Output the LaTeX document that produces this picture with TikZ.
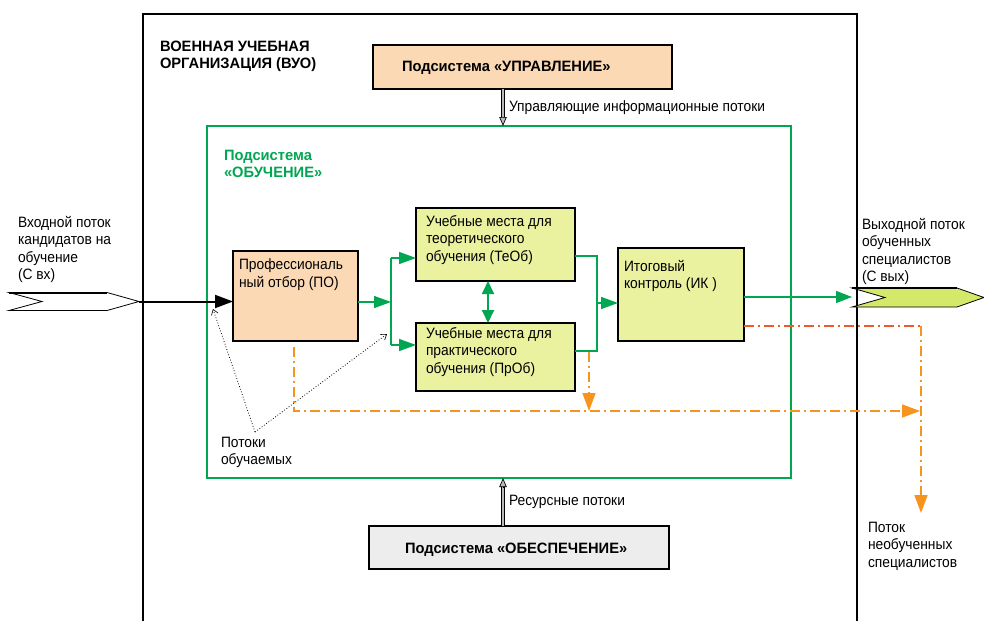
\documentclass[tikz,border=0pt]{standalone}
\usepackage{fontspec}
\setmainfont{Liberation Sans}[FakeStretch=0.92,BoldFeatures={FakeStretch=0.98}]
\usetikzlibrary{arrows.meta,calc}
\definecolor{peach}{RGB}{252,217,181}
\definecolor{lgreen}{RGB}{234,242,160}
\definecolor{outgreen}{RGB}{212,232,106}
\definecolor{dgreen}{RGB}{0,166,81}
\definecolor{orng}{RGB}{247,148,29}
\definecolor{redor}{RGB}{240,90,40}
\definecolor{lgray}{RGB}{237,237,237}
\newcommand{\dfont}{\fontsize{15}{17.5}\selectfont}
\newcommand{\bfont}{\fontsize{15}{17.5}\selectfont\bfseries}
\begin{document}
\begin{tikzpicture}[x=1pt,y=-1pt,
  every node/.style={inner sep=0pt,outer sep=0pt},
  txt/.style={anchor=north west,align=left,font=\dfont},
  btxt/.style={anchor=north west,align=left,font=\bfont},
  blk/.style={draw=black,line width=1.8pt,anchor=north west},
  garrow/.style={draw=dgreen,line width=1.6pt,-{Triangle[length=17pt,width=12pt]}},
  dd/.style={line width=1.6pt,dash pattern=on 10pt off 4pt on 2pt off 4pt},
  oarrow/.style={-{Triangle[length=18pt,width=13pt]}},
  dots/.style={line width=0.8pt,dotted,-{Straight Barb[length=5pt,width=7pt,line width=0.6pt]}},
  holout/.style={line width=4.2pt,line cap=butt},
  holin/.style={line width=2.4pt,draw=gray!55,line cap=butt},
  holtip/.style={line width=0.7pt,-{Triangle[length=9pt,width=7.5pt,fill=gray!55]}},
]
\useasboundingbox (0,0) rectangle (984,621);
% outer organisation frame
\draw[line width=1.8pt] (143,621) -- (143,14) -- (857,14) -- (857,621);
\node[btxt] (vuo) at (160,41) {ВОЕННАЯ УЧЕБНАЯ\\ОРГАНИЗАЦИЯ (ВУО)};
% green subsystem frame
\node[draw=dgreen,line width=2.4pt,anchor=north west,minimum width=584pt,minimum height=352pt] (green) at (207,126) {};
\node[btxt,text=dgreen] (obuch) at (224,150) {Подсистема\\«ОБУЧЕНИЕ»};
% management subsystem
\node[blk,fill=peach,minimum width=299pt,minimum height=44pt] (upr) at (373,45) {};
\node[btxt,anchor=base west] (uprt) at (402,71) {Подсистема «УПРАВЛЕНИЕ»};
% support subsystem
\node[blk,fill=lgray,minimum width=300pt,minimum height=43pt] (obes) at (369,526) {};
\node[btxt,anchor=base west] (obest) at (405,553) {Подсистема «ОБЕСПЕЧЕНИЕ»};
% inner boxes
\node[blk,fill=peach,minimum width=125pt,minimum height=90pt] (po) at (233,251) {};
\node[txt] (pot) at (239,259) {Профессиональ\\ный отбор (ПО)};
\node[blk,fill=lgreen,minimum width=159pt,minimum height=73pt] (teob) at (416,208) {};
\node[txt] (teobt) at (426,215) {Учебные места для\\теоретического\\обучения (ТеОб)};
\node[blk,fill=lgreen,minimum width=159pt,minimum height=68pt] (prob) at (416,323) {};
\node[txt] (probt) at (426,327) {Учебные места для\\практического\\обучения (ПрОб)};
\node[blk,fill=lgreen,minimum width=126pt,minimum height=93pt] (ik) at (618,248) {};
\node[txt] (ikt) at (624,260) {Итоговый\\контроль (ИК )};
% input and output flows
\draw[line width=0.8pt,fill=white] (9,292.5) -- (107,292.5) -- (139,301.5) -- (107,310.5) -- (9,310.5) -- (42,301.5) -- cycle;
\draw[line width=2pt] (9,292.5) -- (107,292.5);
\coordinate (inTip) at (139,301.5);
\node[txt] (int) at (18,216) {Входной поток\\кандидатов на\\обучение\\(С вх)};
\draw[line width=0.8pt,fill=outgreen] (852,288) -- (957,288) -- (984,297.5) -- (957,307) -- (852,307) -- (885,297.5) -- cycle;
\draw[line width=1.6pt] (852,288) -- (957,288);
\coordinate (outTail) at (852,297);
\node[txt] (outt) at (862,218) {Выходной поток\\обученных\\специалистов\\(С вых)};
\node[txt] (nout) at (868,522) {Поток\\необученных\\специалистов};
% main flows
\draw[line width=2pt,-{Triangle[length=18pt,width=13pt]}] (inTip) -- (inTip -| po.west);
\coordinate (j1) at (391,302);
\coordinate (j2) at (597,303);
\draw[garrow] (po.east |- j1) -- (j1);
\draw[draw=dgreen,line width=1.6pt] (391,258) -- (391,345);
\draw[garrow] (391,258) -- (teob.west |- 0,258);
\draw[garrow] (391,345) -- (prob.west |- 0,345);
\draw[draw=dgreen,line width=1.8pt,{Triangle[length=13pt,width=12pt]}-{Triangle[length=13pt,width=12pt]}] (teob.south -| 488,0) -- (prob.north -| 488,0);
\draw[draw=dgreen,line width=1.6pt] (teob.east |- 0,256) -- (597,256) -- (597,351) -- (prob.east |- 0,351);
\draw[garrow] (j2) -- (ik.west |- j2);
\draw[draw=dgreen,line width=1.2pt,-{Triangle[length=16pt,width=12pt]}] (ik.east |- outTail) -- (outTail);
% unfinished (dash-dot) flows
\coordinate (c1) at (921,326);
\coordinate (c2) at (920,411);
\draw[dd,draw=redor] (ik.east |- c1) -- (c1);
\draw[dd,draw=orng,oarrow] (c1) -- (921,513) coordinate (nTip);
\draw[dd,draw=orng,oarrow] (294,347) -- (294,411) -- (c2);
\draw[dd,draw=orng,oarrow] (589,352) -- (589,411);
% trainees flows
\node[txt] (potoki) at (221,437) {Потоки\\обучаемых};
\coordinate (d0) at (255,432);
\draw[dots] (d0) -- (213,309);
\draw[dots] (d0) -- (387,334);
% information and resource flows
\coordinate (ua) at (503,0);
\draw[holout] (upr.south -| ua) -- ($(green.north -| ua)+(0,-8)$);
\draw[holin] (upr.south -| ua) -- ($(green.north -| ua)+(0,-8.3)$);
\draw[holtip] ($(green.north -| ua)+(0,-9)$) -- (green.north -| ua);
\node[txt,anchor=west] (uprl) at (509,108) {Управляющие информационные потоки};
\draw[holout] (obes.north -| ua) -- ($(green.south -| ua)+(0,8)$);
\draw[holin] (obes.north -| ua) -- ($(green.south -| ua)+(0,8.3)$);
\draw[holtip] ($(green.south -| ua)+(0,9)$) -- (green.south -| ua);
\node[txt,anchor=west] (resl) at (509,502) {Ресурсные потоки};
\end{tikzpicture}
\end{document}
